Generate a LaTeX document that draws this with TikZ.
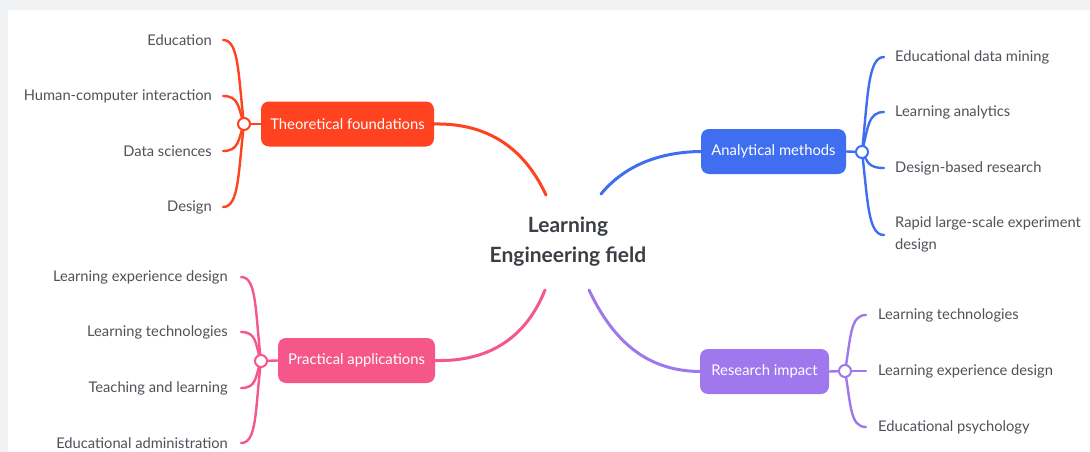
\documentclass[tikz,border=0pt]{standalone}
\usepackage{fontspec}
\setmainfont{Lato}
\usetikzlibrary{calc,backgrounds}
\definecolor{bgray}{HTML}{F1F2F4}
\definecolor{tred}{HTML}{FF4220}
\definecolor{ablue}{HTML}{3F6FF0}
\definecolor{ppink}{HTML}{F5578A}
\definecolor{rpurple}{HTML}{9F78EE}
\definecolor{leafc}{HTML}{4E5359}
\definecolor{titc}{HTML}{3A3F45}
\begin{document}
\begin{tikzpicture}[x=1pt,y=-1pt,
  topic/.style={rounded corners=8pt, text=white, font=\fontsize{14.8}{16}\selectfont,
    minimum height=45pt, inner sep=0pt},
  leaf/.style={text=leafc, font=\fontsize{14.7}{22}\selectfont, inner sep=0pt},
  hub/.style={circle, draw, fill=white, line width=2pt, minimum size=12pt, inner sep=0pt},
  branch/.style={line width=2.4pt, line cap=round},
  mainlink/.style={line width=3pt, line cap=round},
]
\useasboundingbox (0,0) rectangle (1090,452);
% title
\node[font=\bfseries\fontsize{21}{30}\selectfont, text=titc, align=center] (title) at (568,242) {Learning\\Engineering field};
% topics
\node[topic, fill=tred, minimum width=173pt] (T) at (347.5,124) {Theoretical foundations};
\node[topic, fill=ablue, minimum width=145pt] (A) at (773.5,151.5) {Analytical methods};
\node[topic, fill=ppink, minimum width=157pt] (P) at (356.5,360.5) {Practical applications};
\node[topic, fill=rpurple, minimum width=129pt] (R) at (764.5,371.5) {Research impact};
% hubs
\node[hub, draw=tred] (Th) at (244,124) {};
\node[hub, draw=ablue] (Ah) at (862,152) {};
\node[hub, draw=ppink] (Ph) at (261,361) {};
\node[hub, draw=rpurple] (Rh) at (845,371) {};
% free ends near the title
\coordinate (cT) at (546,195);
\coordinate (cA) at (601,194);
\coordinate (cP) at (545,290);
\coordinate (cR) at (589,290);
% leaves
\node[leaf, anchor=east] (T1) at (212,40) {Education};
\node[leaf, anchor=east] (T2) at (212,96) {Human-computer interaction};
\node[leaf, anchor=east] (T3) at (212,151) {Data sciences};
\node[leaf, anchor=east] (T4) at (212,207) {Design};
\node[leaf, anchor=east] (P1) at (228,277) {Learning experience design};
\node[leaf, anchor=east] (P2) at (228,332) {Learning technologies};
\node[leaf, anchor=east] (P3) at (228,388) {Teaching and learning};
\node[leaf, anchor=east] (P4) at (228,443) {Educational administration};
\node[leaf, anchor=west] (A1) at (895,57) {Educational data mining};
\node[leaf, anchor=west] (A2) at (895,112) {Learning analytics};
\node[leaf, anchor=west] (A3) at (895,168) {Design-based research};
\node[leaf, anchor=west, align=left] (A4) at (895,234) {Rapid large-scale experiment\\design};
\node[leaf, anchor=west] (R1) at (878,315) {Learning technologies};
\node[leaf, anchor=west] (R2) at (878,371) {Learning experience design};
\node[leaf, anchor=west] (R3) at (878,427) {Educational psychology};
\begin{pgfonlayer}{background}
  \fill[bgray] (0,0) rectangle (1090,452);
  \fill[white] (8,10) rectangle (1090,452);
  % main links
  \draw[mainlink, tred] (T.east) .. controls (490,123) and (525,150) .. (cT);
  \draw[mainlink, ablue] (cA) .. controls (625,165) and (660,152) .. (A.west);
  \draw[mainlink, ppink] (P.east) .. controls (492,362) and (527,335) .. (cP);
  \draw[mainlink, rpurple] (cR) .. controls (615,345) and (650,371) .. (R.west);
  % hub stubs
  \draw[branch, tred] (Th.center) -- (T.west);
  \draw[branch, ablue] (Ah.center) -- (A.east);
  \draw[branch, ppink] (Ph.center) -- (P.west);
  \draw[branch, rpurple] (Rh.center) -- (R.east);
  % theoretical branches
  \draw[branch, tred] ($(T1.east)+(11,0)$) .. controls +(16,0) and +(-6,-50) .. (Th.center);
  \draw[branch, tred] ($(T2.east)+(11,0)$) .. controls +(16,0) and +(-6,-17) .. (Th.center);
  \draw[branch, tred] ($(T3.east)+(11,0)$) .. controls +(16,0) and +(-6,16) .. (Th.center);
  \draw[branch, tred] ($(T4.east)+(11,0)$) .. controls +(16,0) and +(-6,50) .. (Th.center);
  % practical branches
  \draw[branch, ppink] ($(P1.east)+(13,0)$) .. controls +(16,0) and +(-6,-50) .. (Ph.center);
  \draw[branch, ppink] ($(P2.east)+(13,0)$) .. controls +(16,0) and +(-6,-17) .. (Ph.center);
  \draw[branch, ppink] ($(P3.east)+(13,0)$) .. controls +(16,0) and +(-6,16) .. (Ph.center);
  \draw[branch, ppink] ($(P4.east)+(13,0)$) .. controls +(16,0) and +(-6,50) .. (Ph.center);
  % analytical branches
  \draw[branch, ablue] ($(A1.west)+(-11,0)$) .. controls +(-16,0) and +(6,-57) .. (Ah.center);
  \draw[branch, ablue] ($(A2.west)+(-11,0)$) .. controls +(-16,0) and +(6,-24) .. (Ah.center);
  \draw[branch, ablue] ($(A3.west)+(-11,0)$) .. controls +(-16,0) and +(6,10) .. (Ah.center);
  \draw[branch, ablue] ($(A4.west)+(-11,1)$) .. controls +(-16,0) and +(6,50) .. (Ah.center);
  % research branches
  \draw[branch, rpurple] ($(R1.west)+(-12,0)$) .. controls +(-16,0) and +(6,-34) .. (Rh.center);
  \draw[branch, rpurple] ($(R2.west)+(-12,0)$) -- (Rh.center);
  \draw[branch, rpurple] ($(R3.west)+(-12,0)$) .. controls +(-16,0) and +(6,34) .. (Rh.center);
\end{pgfonlayer}
\end{tikzpicture}
\end{document}
